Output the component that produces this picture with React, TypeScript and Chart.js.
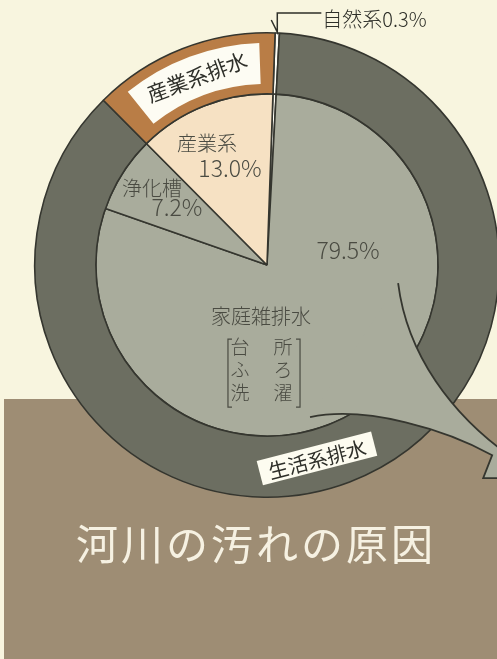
import React, { useEffect, useRef } from "react";
import { Chart, registerables } from "chart.js";

Chart.register(...registerables);

// ---- data ----
const innerCategories = ["自然系", "家庭雑排水", "浄化槽", "産業系"];
const innerValues = [0.3, 79.5, 7.2, 13.0];
const innerColors = ["#fdfcf3", "#a9ac9c", "#a9ac9c", "#f6e1c3"];

const outerCategories = ["自然系", "生活系排水", "産業系排水"];
const outerValues = [0.3, 86.7, 13.0];
const outerColors = ["#fdfcf3", "#6c6e61", "#b97d46"];

const householdSources = [
  ["台", "所"],
  ["ふ", "ろ"],
  ["洗", "濯"],
];
const chartTitle = "河川の汚れの原因";

const FONT = '"Noto Sans CJK JP", "Noto Sans", sans-serif';
const TEXT_DARK = "#4a4b42";
const LINE_DARK = "#35362f";

const fmt = (v: number) => v.toFixed(1) + "%";

const decorPlugin = {
  id: "decor",
  afterDatasetsDraw(chart: any) {
    const ctx: CanvasRenderingContext2D = chart.ctx;
    const outerArcs = chart.getDatasetMeta(0).data as any[];
    const innerArcs = chart.getDatasetMeta(1).data as any[];
    if (!outerArcs.length || !innerArcs.length) return;
    const cx = outerArcs[0].x;
    const cy = outerArcs[0].y;
    const R = outerArcs[0].outerRadius;
    const s = R / 232;
    const P = (dx: number, dy: number): [number, number] => [cx + dx * s, cy + dy * s];
    const font = (px: number, w = 400) => `${w} ${px * s}px ${FONT}`;

    ctx.save();

    // --- speech-bubble tail of the household slice ---
    const tailFill = innerColors[1];
    ctx.beginPath();
    ctx.moveTo(...P(131, 18));
    ctx.bezierCurveTo(...P(140, 90), ...P(185, 150), ...P(243, 191));
    ctx.lineTo(...P(262, 205));
    ctx.lineTo(...P(262, 213));
    ctx.lineTo(...P(216, 213));
    ctx.lineTo(...P(225, 190));
    ctx.bezierCurveTo(...P(180, 165), ...P(100, 140), ...P(43, 152));
    ctx.closePath();
    ctx.fillStyle = tailFill;
    ctx.fill();

    ctx.strokeStyle = LINE_DARK;
    ctx.lineWidth = 1.8 * s;
    ctx.lineJoin = "miter";
    ctx.beginPath();
    ctx.moveTo(...P(131, 18));
    ctx.bezierCurveTo(...P(140, 90), ...P(185, 150), ...P(243, 191));
    ctx.lineTo(...P(262, 205));
    ctx.stroke();
    ctx.beginPath();
    ctx.moveTo(...P(43, 152));
    ctx.bezierCurveTo(...P(100, 140), ...P(180, 165), ...P(225, 190));
    ctx.lineTo(...P(216, 213));
    ctx.lineTo(...P(262, 213));
    ctx.stroke();

    // --- white band label on the industrial ring segment ---
    const ind = outerArcs[2];
    const bandIn = ind.innerRadius + 10 * s;
    const bandOut = ind.outerRadius - 10 * s;
    const a0 = ind.startAngle + (6 * Math.PI) / 180;
    const a1 = ind.endAngle - (4 * Math.PI) / 180;
    ctx.beginPath();
    ctx.arc(cx, cy, bandOut, a0, a1);
    ctx.arc(cx, cy, bandIn, a1, a0, true);
    ctx.closePath();
    ctx.fillStyle = "#fdfcf3";
    ctx.fill();
    const am = (a0 + a1) / 2;
    const rm = (bandIn + bandOut) / 2;
    ctx.save();
    ctx.translate(cx + rm * Math.cos(am), cy + rm * Math.sin(am));
    ctx.rotate(am + Math.PI / 2);
    ctx.fillStyle = "#2e2f29";
    ctx.font = font(21);
    ctx.textAlign = "center";
    ctx.textBaseline = "middle";
    ctx.fillText(outerCategories[2], 0, 1 * s);
    ctx.restore();

    // --- box label on the domestic ring segment ---
    const liv = outerArcs[1];
    const phi = (165.5 * Math.PI) / 180; // measured from top, clockwise
    const rl = (liv.innerRadius + liv.outerRadius) / 2 - 2 * s;
    ctx.save();
    ctx.translate(cx + rl * Math.sin(phi), cy - rl * Math.cos(phi));
    ctx.rotate(phi - Math.PI);
    ctx.fillStyle = "#fdfcf0";
    ctx.fillRect(-59 * s, -12.5 * s, 118 * s, 25 * s);
    ctx.fillStyle = "#2e2f29";
    ctx.font = font(20);
    ctx.textAlign = "center";
    ctx.textBaseline = "middle";
    ctx.fillText(outerCategories[1], 0, 1 * s);
    ctx.restore();

    // --- leader and label for the natural share ---
    const nat = innerArcs[0];
    const nm = (nat.startAngle + nat.endAngle) / 2;
    const tx = cx + R * Math.cos(nm);
    const ty = cy + R * Math.sin(nm);
    ctx.strokeStyle = "#2e2f29";
    ctx.lineWidth = 1.5 * s;
    ctx.beginPath();
    ctx.moveTo(tx - 6 * s, ty - 13 * s);
    ctx.lineTo(tx, ty - 1 * s);
    ctx.lineTo(tx, ty - 20 * s);
    ctx.lineTo(tx + 44 * s, ty - 20 * s);
    ctx.stroke();
    ctx.fillStyle = "#2e2f29";
    ctx.font = font(20, 300);
    ctx.textAlign = "left";
    ctx.textBaseline = "middle";
    ctx.fillText(
      innerCategories[0] + innerValues[0].toFixed(1) + "%",
      tx + 45 * s,
      ty - 14 * s
    );

    // --- inner slice labels ---
    ctx.fillStyle = TEXT_DARK;
    ctx.textAlign = "center";
    ctx.textBaseline = "middle";
    const put = (t: string, dx: number, dy: number, px: number) => {
      ctx.font = font(px, 300);
      const [x, y] = P(dx, dy);
      ctx.fillText(t, x, y);
    };
    put(innerCategories[3], -60, -121, 20);
    put(fmt(innerValues[3]), -37, -97, 23);
    put(innerCategories[2], -115, -77, 20);
    put(fmt(innerValues[2]), -90, -58, 23);
    put(fmt(innerValues[1]), 81, -15, 23);
    put(innerCategories[1], -6, 51, 20);

    const rowsY = [82, 105, 128];
    householdSources.forEach((pair, i) => {
      put(pair[0], -27, rowsY[i], 19);
      put(pair[1], 16, rowsY[i], 19);
    });
    // brackets
    ctx.strokeStyle = TEXT_DARK;
    ctx.lineWidth = 1.2 * s;
    ctx.beginPath();
    ctx.moveTo(...P(-35, 74));
    ctx.lineTo(...P(-39, 74));
    ctx.lineTo(...P(-39, 142));
    ctx.lineTo(...P(-35, 142));
    ctx.moveTo(...P(29, 74));
    ctx.lineTo(...P(33, 74));
    ctx.lineTo(...P(33, 142));
    ctx.lineTo(...P(29, 142));
    ctx.stroke();

    ctx.restore();
  },
};

export default function App() {
  const canvasRef = useRef<HTMLCanvasElement | null>(null);

  useEffect(() => {
    const canvas = canvasRef.current;
    if (!canvas) return;
    const chart = new Chart(canvas, {
      type: "doughnut",
      data: {
        labels: innerCategories,
        datasets: [
          {
            label: "排水区分",
            data: outerValues,
            backgroundColor: outerColors,
            borderColor: LINE_DARK,
            borderWidth: 1.6,
            weight: 61,
          } as any,
          {
            label: "発生源",
            data: innerValues,
            backgroundColor: innerColors,
            borderColor: LINE_DARK,
            borderWidth: 1.6,
            weight: 171,
          } as any,
        ],
      },
      options: {
        responsive: false,
        maintainAspectRatio: false,
        animation: false,
        events: [],
        cutout: 0,
        rotation: 2,
        layout: { padding: { left: 34, top: 32, right: 40, bottom: 161 } },
        plugins: {
          legend: { display: false },
          tooltip: { enabled: false },
        },
      } as any,
      plugins: [decorPlugin],
    });
    return () => chart.destroy();
  }, []);

  return (
    <div
      style={{
        position: "fixed",
        left: 0,
        top: 0,
        width: 497,
        height: 659,
        overflow: "hidden",
        background: "#f8f5df",
      }}
    >
      <div
        style={{
          position: "absolute",
          left: 4,
          top: 399,
          width: 493,
          height: 260,
          background: "#9e8d74",
        }}
      />
      <canvas
        ref={canvasRef}
        width={540}
        height={659}
        style={{ position: "absolute", left: 0, top: 0, width: 540, height: 659 }}
      />
      <div
        style={{
          position: "absolute",
          left: 0,
          top: 517,
          width: 512,
          textAlign: "center",
          fontFamily: FONT,
          fontSize: 42,
          lineHeight: "50px",
          letterSpacing: 3,
          color: "#f6f1e2",
          whiteSpace: "nowrap",
        }}
      >
        {chartTitle}
      </div>
    </div>
  );
}
